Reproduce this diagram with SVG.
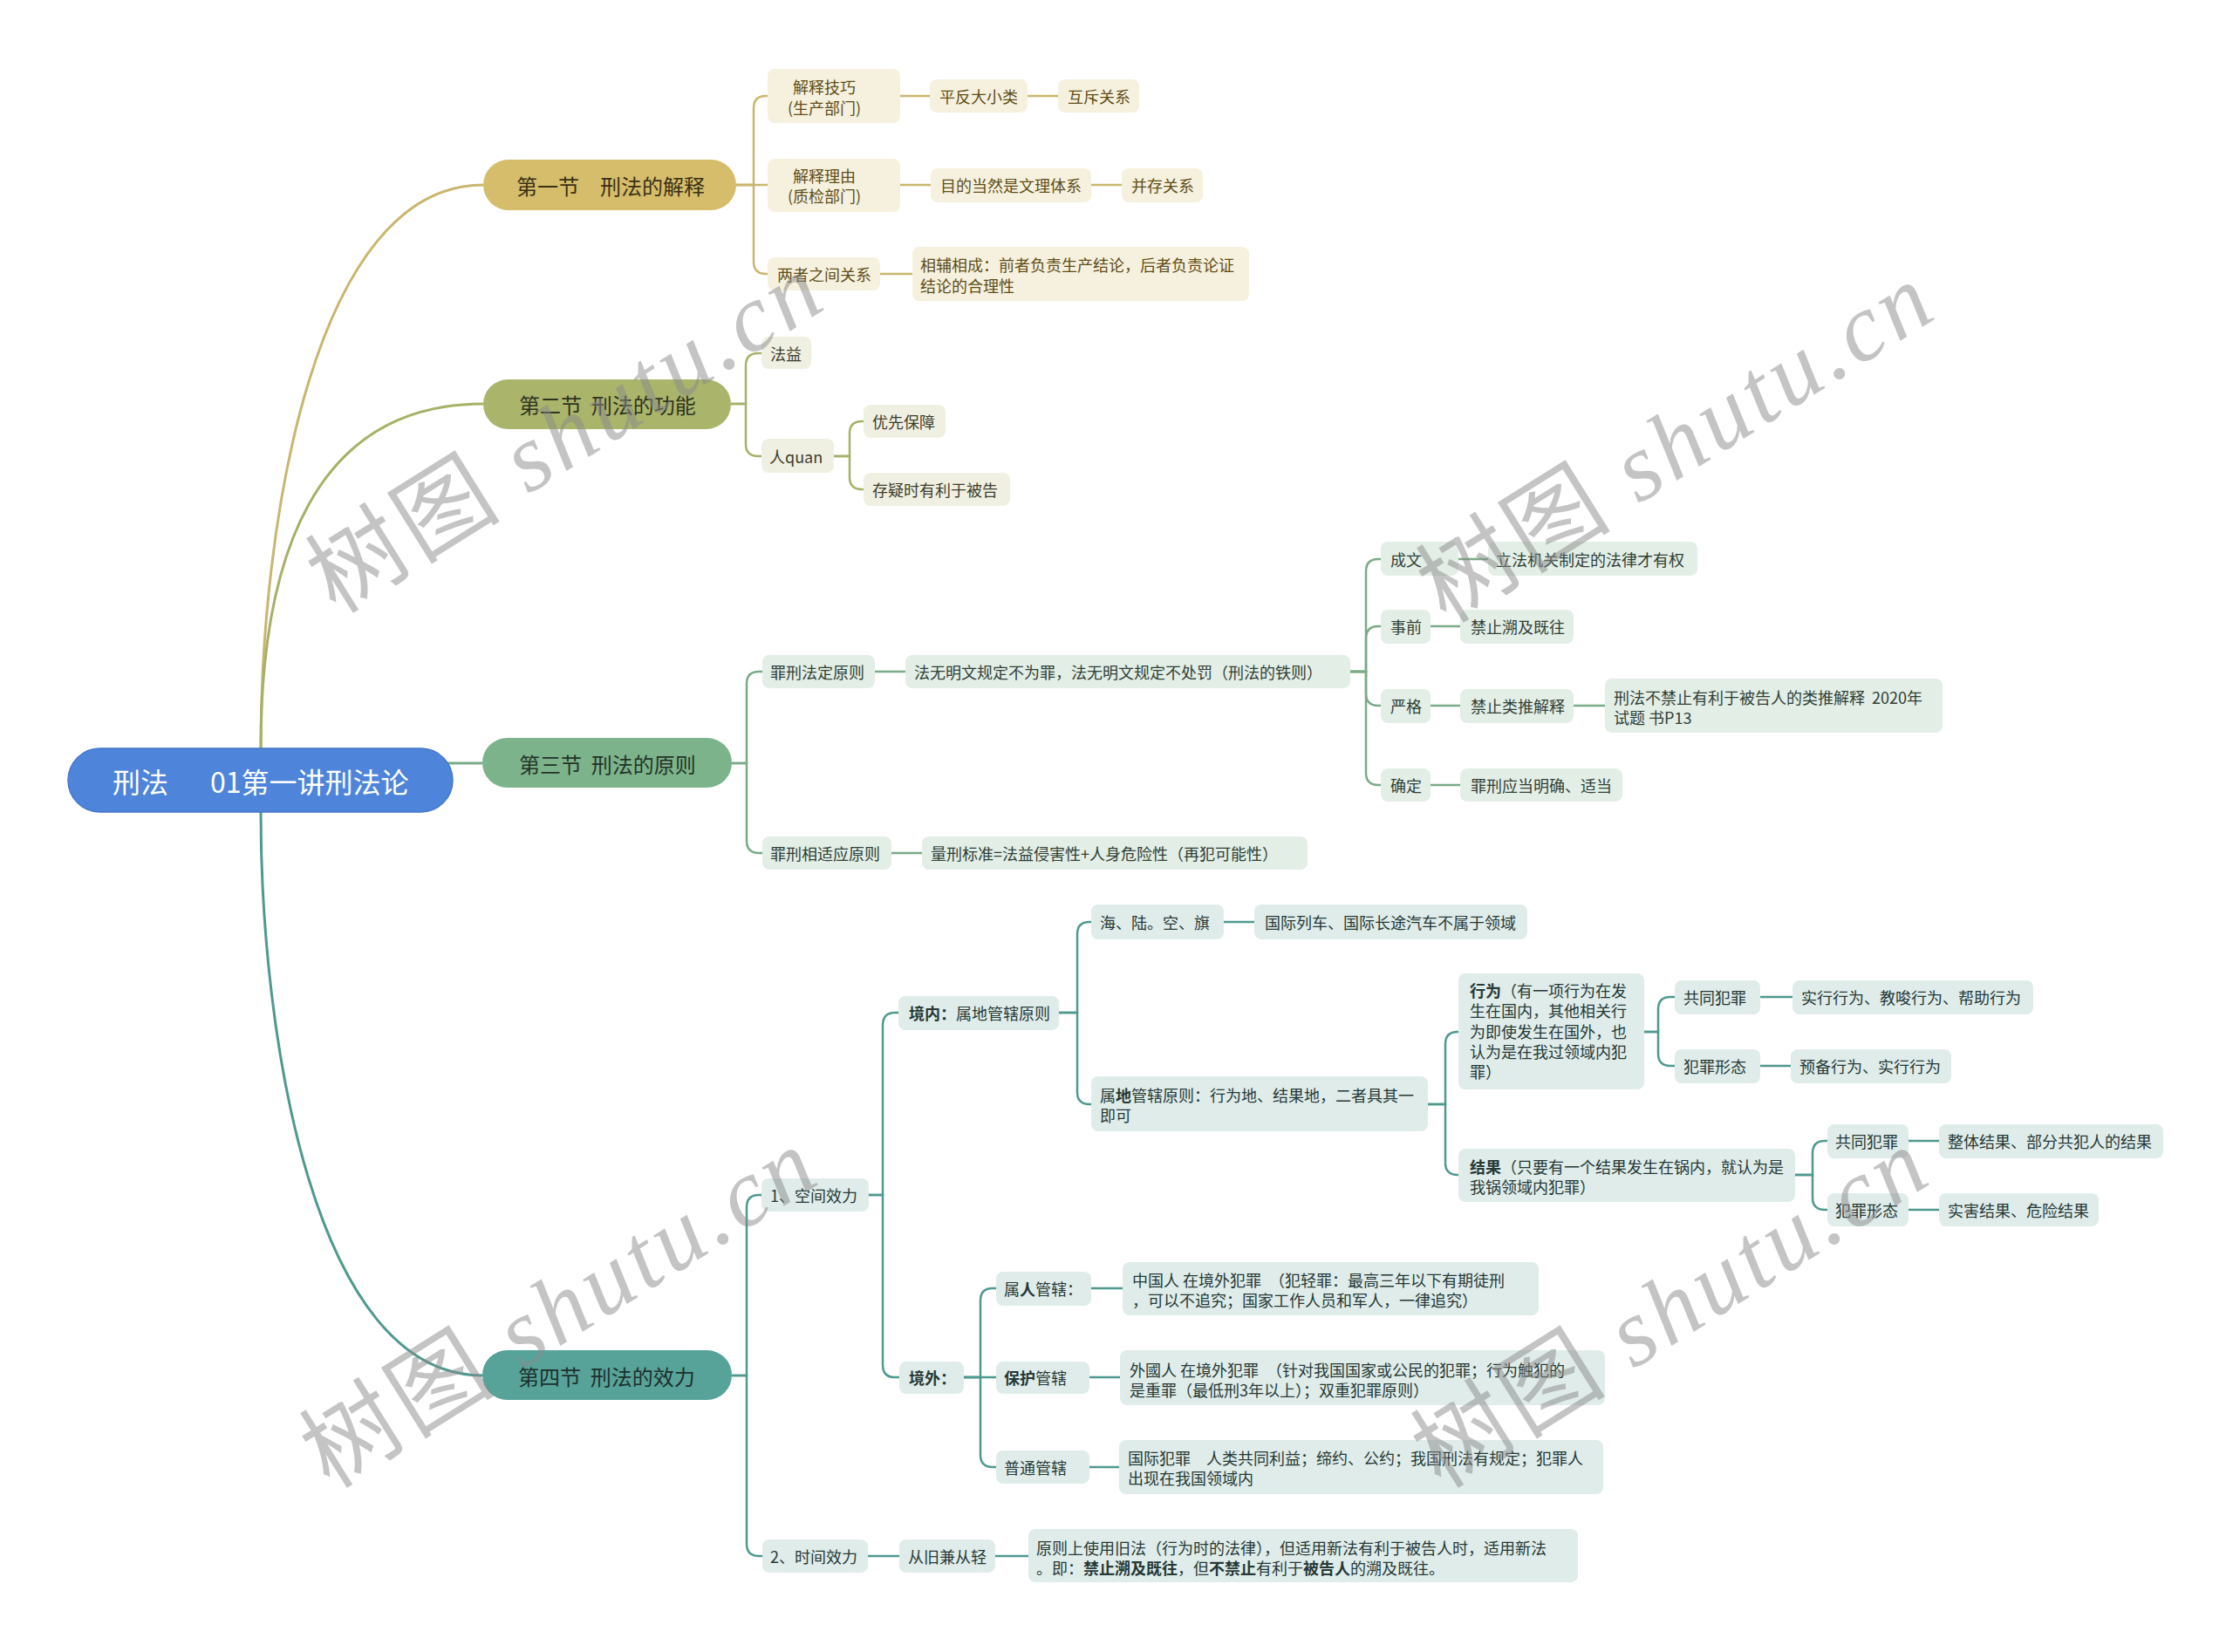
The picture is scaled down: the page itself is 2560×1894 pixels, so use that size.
<svg xmlns="http://www.w3.org/2000/svg" width="2560" height="1894" viewBox="0 0 2560 1894">
<style>
.t{font-family:"Noto Sans CJK SC","Noto Sans",sans-serif;font-size:18px;dominant-baseline:central}
.b{font-weight:bold}
.sec{font-family:"Noto Sans CJK SC","Noto Sans",sans-serif;font-size:24px;dominant-baseline:central}
.c1{fill:none;stroke:#c9b66e;stroke-width:2.5}
.c2{fill:none;stroke:#a7b067;stroke-width:2.5}
.c3{fill:none;stroke:#7aaa87;stroke-width:2.5}
.c4{fill:none;stroke:#4f998f;stroke-width:2.5}
.m{stroke-width:3}
.n1{fill:#f6f1de}.n2{fill:#f0f0e2}.n3{fill:#e3eee6}.n4{fill:#dfecea}
.x1{fill:#5e4d17}.x2{fill:#3e3e2c}.x3{fill:#2f4036}.x4{fill:#263936}
.wm{font-family:"Noto Sans CJK SC","Liberation Serif",serif;font-size:110px;fill:#8a8a8a;opacity:0.5}
.wl{font-family:"Liberation Serif",serif;font-style:italic}
</style>

<g id="connectors">
<path class="c1 m" d="M299,858 C299,600 360,212 554,212"/>
<path class="c2 m" d="M299,858 C299,640 360,463 554,463"/>
<path class="c3 m" d="M480,875 H553"/>
<path class="c4 m" d="M299,931 C299,1189 360,1577 553,1577"/>

<path class="c1" d="M844,212 H864 V124 Q864,110 878,110 H880"/>
<path class="c1" d="M844,212 H880"/>
<path class="c1" d="M844,212 H864 V300 Q864,314 878,314 H880"/>
<path class="c1" d="M1032,110 H1066"/>
<path class="c1" d="M1178,110 H1213"/>
<path class="c1" d="M1032,212 H1067"/>
<path class="c1" d="M1251,212 H1286"/>
<path class="c1" d="M1009,314 H1046"/>

<path class="c2" d="M838,463 H855 V419 Q855,405 869,405 H873"/>
<path class="c2" d="M838,463 H855 V509 Q855,523 869,523 H873"/>
<path class="c2" d="M956,523 H974 V497 Q974,483 988,483 H990"/>
<path class="c2" d="M956,523 H974 V547 Q974,561 988,561 H990"/>

<path class="c3" d="M839,875 H856 V784 Q856,770 870,770 H874"/>
<path class="c3" d="M839,875 H856 V964 Q856,978 870,978 H874"/>
<path class="c3" d="M1003,770 H1038"/>
<path class="c3" d="M1022,978 H1057"/>
<path class="c3" d="M1548,770 H1566 V655 Q1566,641 1580,641 H1583"/>
<path class="c3" d="M1548,770 H1566 V732 Q1566,718 1580,718 H1583"/>
<path class="c3" d="M1548,770 H1566 V795 Q1566,809 1580,809 H1583"/>
<path class="c3" d="M1548,770 H1566 V886 Q1566,900 1580,900 H1583"/>
<path class="c3" d="M1672,641 H1706"/>
<path class="c3" d="M1640,718 H1674"/>
<path class="c3" d="M1640,809 H1674"/>
<path class="c3" d="M1804,809 H1840"/>
<path class="c3" d="M1640,900 H1674"/>

<path class="c4" d="M839,1577 H856 V1384 Q856,1370 870,1370 H873"/>
<path class="c4" d="M839,1577 H856 V1770 Q856,1784 870,1784 H874"/>
<path class="c4" d="M996,1370 H1012 V1175 Q1012,1161 1026,1161 H1030"/>
<path class="c4" d="M996,1370 H1012 V1565 Q1012,1579 1026,1579 H1031"/>
<path class="c4" d="M1214,1161 H1235 V1071 Q1235,1057 1249,1057 H1251"/>
<path class="c4" d="M1214,1161 H1235 V1252 Q1235,1266 1249,1266 H1251"/>
<path class="c4" d="M1403,1057 H1438"/>
<path class="c4" d="M1637,1266 H1657 V1197 Q1657,1183 1671,1183 H1672"/>
<path class="c4" d="M1637,1266 H1657 V1333 Q1657,1347 1671,1347 H1672"/>
<path class="c4" d="M1885,1183 H1901 V1157 Q1901,1143 1915,1143 H1920"/>
<path class="c4" d="M1885,1183 H1901 V1208 Q1901,1222 1915,1222 H1920"/>
<path class="c4" d="M2018,1143 H2055"/>
<path class="c4" d="M2018,1222 H2053"/>
<path class="c4" d="M2058,1347 H2078 V1322 Q2078,1308 2092,1308 H2095"/>
<path class="c4" d="M2058,1347 H2078 V1373 Q2078,1387 2092,1387 H2095"/>
<path class="c4" d="M2188,1308 H2223"/>
<path class="c4" d="M2188,1387 H2223"/>
<path class="c4" d="M1105,1579 H1124 V1491 Q1124,1477 1138,1477 H1142"/>
<path class="c4" d="M1105,1579 H1142"/>
<path class="c4" d="M1105,1579 H1124 V1668 Q1124,1682 1138,1682 H1142"/>
<path class="c4" d="M1251,1477 H1287"/>
<path class="c4" d="M1249,1579 H1284"/>
<path class="c4" d="M1249,1682 H1283"/>
<path class="c4" d="M995,1784 H1031"/>
<path class="c4" d="M1141,1784 H1179"/>
</g>

<g id="root">
<rect x="78" y="858" width="441" height="73" rx="36.5" fill="#4e85da" stroke="#4477c8" stroke-width="1.5"/>
<text class="t" style="font-size:32px" fill="#ffffff" y="895"><tspan x="129">刑法</tspan><tspan x="241">01第一讲刑法论</tspan></text>
</g>

<g id="s1">
<rect x="554" y="183" width="290" height="58" rx="29" fill="#d5bd6b"/>
<text class="sec" x="592" y="212" fill="#3a3016">第一节　刑法的解释</text>
</g>
<g id="s2">
<rect x="554" y="435" width="284" height="57" rx="28.5" fill="#aab56b"/>
<text class="sec" x="595" y="463" fill="#2f3220" xml:space="preserve">第二节  刑法的功能</text>
</g>
<g id="s3">
<rect x="553" y="846" width="286" height="57" rx="28.5" fill="#7cb38b"/>
<text class="sec" x="595" y="875" fill="#243428" xml:space="preserve">第三节  刑法的原则</text>
</g>
<g id="s4">
<rect x="553" y="1548" width="286" height="57" rx="28.5" fill="#57a399"/>
<text class="sec" x="594" y="1577" fill="#1c302d" xml:space="preserve">第四节  刑法的效力</text>
</g>

<g id="n1a"><rect class="n1" x="880" y="79" width="152" height="62" rx="8"/>
<text class="t x1" x="945" y="99" text-anchor="middle">解释技巧</text><text class="t x1" x="945" y="123" text-anchor="middle">(生产部门)</text></g>
<g id="n1a1"><rect class="n1" x="1066" y="91" width="112" height="38" rx="8"/><text class="t x1" x="1077" y="110">平反大小类</text></g>
<g id="n1a2"><rect class="n1" x="1213" y="91" width="93" height="38" rx="8"/><text class="t x1" x="1224" y="110">互斥关系</text></g>
<g id="n1b"><rect class="n1" x="880" y="182" width="152" height="61" rx="8"/>
<text class="t x1" x="945" y="201" text-anchor="middle">解释理由</text><text class="t x1" x="945" y="224" text-anchor="middle">(质检部门)</text></g>
<g id="n1b1"><rect class="n1" x="1067" y="193" width="184" height="39" rx="8"/><text class="t x1" x="1078" y="212">目的当然是文理体系</text></g>
<g id="n1b2"><rect class="n1" x="1286" y="193" width="93" height="39" rx="8"/><text class="t x1" x="1297" y="212">并存关系</text></g>
<g id="n1c"><rect class="n1" x="880" y="295" width="129" height="38" rx="8"/><text class="t x1" x="891" y="314">两者之间关系</text></g>
<g id="n1c1"><rect class="n1" x="1046" y="283" width="386" height="62" rx="8"/>
<text class="t x1" x="1055" y="303">相辅相成：前者负责生产结论，后者负责论证</text><text class="t x1" x="1055" y="327">结论的合理性</text></g>

<g id="n2a"><rect class="n2" x="873" y="386" width="57" height="37" rx="8"/><text class="t x2" x="883" y="405">法益</text></g>
<g id="n2b"><rect class="n2" x="873" y="503" width="83" height="39" rx="8"/><text class="t x2" x="882" y="523">人quan</text></g>
<g id="n2b1"><rect class="n2" x="990" y="464" width="94" height="38" rx="8"/><text class="t x2" x="1000" y="483">优先保障</text></g>
<g id="n2b2"><rect class="n2" x="990" y="542" width="168" height="38" rx="8"/><text class="t x2" x="1000" y="561">存疑时有利于被告</text></g>

<g id="n3a"><rect class="n3" x="874" y="751" width="129" height="38" rx="8"/><text class="t x3" x="883" y="770">罪刑法定原则</text></g>
<g id="n3a1"><rect class="n3" x="1038" y="751" width="510" height="38" rx="8"/><text class="t x3" x="1048" y="770">法无明文规定不为罪，法无明文规定不处罚（刑法的铁则）</text></g>
<g id="n3c1"><rect class="n3" x="1583" y="621" width="89" height="39" rx="8"/><text class="t x3" x="1594" y="641">成文</text></g>
<g id="n3c1a"><rect class="n3" x="1706" y="621" width="240" height="39" rx="8"/><text class="t x3" x="1715" y="641">立法机关制定的法律才有权</text></g>
<g id="n3c2"><rect class="n3" x="1583" y="699" width="57" height="39" rx="8"/><text class="t x3" x="1594" y="718">事前</text></g>
<g id="n3c2a"><rect class="n3" x="1674" y="699" width="130" height="39" rx="8"/><text class="t x3" x="1686" y="718">禁止溯及既往</text></g>
<g id="n3c3"><rect class="n3" x="1583" y="790" width="57" height="39" rx="8"/><text class="t x3" x="1594" y="809">严格</text></g>
<g id="n3c3a"><rect class="n3" x="1674" y="790" width="130" height="39" rx="8"/><text class="t x3" x="1686" y="809">禁止类推解释</text></g>
<g id="n3c3b"><rect class="n3" x="1840" y="778" width="387" height="62" rx="8"/>
<text class="t x3" x="1850" y="799" xml:space="preserve">刑法不禁止有利于被告人的类推解释  2020年</text><text class="t x3" x="1850" y="822">试题 书P13</text></g>
<g id="n3c4"><rect class="n3" x="1583" y="881" width="57" height="38" rx="8"/><text class="t x3" x="1594" y="900">确定</text></g>
<g id="n3c4a"><rect class="n3" x="1674" y="881" width="186" height="38" rx="8"/><text class="t x3" x="1686" y="900">罪刑应当明确、适当</text></g>
<g id="n3b"><rect class="n3" x="874" y="959" width="148" height="38" rx="8"/><text class="t x3" x="883" y="978">罪刑相适应原则</text></g>
<g id="n3b1"><rect class="n3" x="1057" y="959" width="442" height="38" rx="8"/><text class="t x3" x="1067" y="978">量刑标准=法益侵害性+人身危险性（再犯可能性）</text></g>

<g id="n4a"><rect class="n4" x="873" y="1351" width="123" height="38" rx="8"/><text class="t x4" x="883" y="1370">1、空间效力</text></g>
<g id="n4a1"><rect class="n4" x="1030" y="1142" width="184" height="39" rx="8"/><text class="t x4" x="1042" y="1161"><tspan class="b">境内：</tspan>属地管辖原则</text></g>
<g id="n4a1a"><rect class="n4" x="1251" y="1037" width="152" height="40" rx="8"/><text class="t x4" x="1261" y="1057">海、陆。空、旗</text></g>
<g id="n4a1a1"><rect class="n4" x="1438" y="1037" width="313" height="40" rx="8"/><text class="t x4" x="1450" y="1057">国际列车、国际长途汽车不属于领域</text></g>
<g id="n4a1b"><rect class="n4" x="1251" y="1234" width="386" height="63" rx="8"/>
<text class="t x4" x="1261" y="1255">属<tspan class="b">地</tspan>管辖原则：行为地、结果地，二者具其一</text><text class="t x4" x="1261" y="1278">即可</text></g>
<g id="n4xw"><rect class="n4" x="1672" y="1116" width="213" height="133" rx="8"/>
<text class="t x4" x="1685" y="1135"><tspan class="b">行为</tspan>（有一项行为在发</text>
<text class="t x4" x="1685" y="1158">生在国内，其他相关行</text>
<text class="t x4" x="1685" y="1182">为即使发生在国外，也</text>
<text class="t x4" x="1685" y="1205">认为是在我过领域内犯</text>
<text class="t x4" x="1685" y="1228">罪）</text></g>
<g id="n4xw1"><rect class="n4" x="1920" y="1124" width="98" height="39" rx="8"/><text class="t x4" x="1930" y="1143">共同犯罪</text></g>
<g id="n4xw1a"><rect class="n4" x="2055" y="1124" width="276" height="39" rx="8"/><text class="t x4" x="2065" y="1143">实行行为、教唆行为、帮助行为</text></g>
<g id="n4xw2"><rect class="n4" x="1920" y="1203" width="98" height="39" rx="8"/><text class="t x4" x="1930" y="1222">犯罪形态</text></g>
<g id="n4xw2a"><rect class="n4" x="2053" y="1203" width="184" height="39" rx="8"/><text class="t x4" x="2063" y="1222">预备行为、实行行为</text></g>
<g id="n4jg"><rect class="n4" x="1672" y="1317" width="386" height="61" rx="8"/>
<text class="t x4" x="1685" y="1337"><tspan class="b">结果</tspan>（只要有一个结果发生在锅内，就认为是</text>
<text class="t x4" x="1685" y="1360">我锅领域内犯罪）</text></g>
<g id="n4jg1"><rect class="n4" x="2095" y="1289" width="93" height="39" rx="8"/><text class="t x4" x="2104" y="1308">共同犯罪</text></g>
<g id="n4jg1a"><rect class="n4" x="2223" y="1289" width="257" height="39" rx="8"/><text class="t x4" x="2233" y="1308">整体结果、部分共犯人的结果</text></g>
<g id="n4jg2"><rect class="n4" x="2095" y="1368" width="93" height="38" rx="8"/><text class="t x4" x="2104" y="1387">犯罪形态</text></g>
<g id="n4jg2a"><rect class="n4" x="2223" y="1368" width="183" height="38" rx="8"/><text class="t x4" x="2233" y="1387">实害结果、危险结果</text></g>

<g id="n4a2"><rect class="n4" x="1031" y="1561" width="74" height="37" rx="8"/><text class="t x4 b" x="1042" y="1579">境外：</text></g>
<g id="n4a2a"><rect class="n4" x="1142" y="1458" width="109" height="39" rx="8"/><text class="t x4" x="1151" y="1477">属<tspan class="b">人</tspan>管辖：</text></g>
<g id="n4a2a1"><rect class="n4" x="1287" y="1447" width="477" height="61" rx="8"/>
<text class="t x4" x="1298" y="1467">中国人 在境外犯罪　（犯轻罪：最高三年以下有期徒刑</text>
<text class="t x4" x="1298" y="1490">，可以不追究；国家工作人员和军人，一律追究）</text></g>
<g id="n4a2b"><rect class="n4" x="1142" y="1561" width="107" height="37" rx="8"/><text class="t x4" x="1151" y="1579"><tspan class="b">保护</tspan>管辖</text></g>
<g id="n4a2b1"><rect class="n4" x="1284" y="1548" width="556" height="63" rx="8"/>
<text class="t x4" x="1295" y="1570">外國人 在境外犯罪　（针对我国国家或公民的犯罪；行为触犯的</text>
<text class="t x4" x="1295" y="1593">是重罪（最低刑3年以上）；双重犯罪原则）</text></g>
<g id="n4a2c"><rect class="n4" x="1142" y="1663" width="107" height="38" rx="8"/><text class="t x4" x="1151" y="1682">普通管辖</text></g>
<g id="n4a2c1"><rect class="n4" x="1283" y="1651" width="555" height="62" rx="8"/>
<text class="t x4" x="1293" y="1671">国际犯罪　人类共同利益；缔约、公约；我国刑法有规定；犯罪人</text>
<text class="t x4" x="1293" y="1694">出现在我国领域内</text></g>
<g id="n4b"><rect class="n4" x="874" y="1765" width="121" height="38" rx="8"/><text class="t x4" x="883" y="1784">2、时间效力</text></g>
<g id="n4b1"><rect class="n4" x="1031" y="1765" width="110" height="38" rx="8"/><text class="t x4" x="1041" y="1784">从旧兼从轻</text></g>
<g id="n4b1a"><rect class="n4" x="1179" y="1753" width="630" height="61" rx="8"/>
<text class="t x4" x="1188" y="1774">原则上使用旧法（行为时的法律），但适用新法有利于被告人时，适用新法</text>
<text class="t x4" x="1188" y="1797">。即：<tspan class="b">禁止溯及既往</tspan>，但<tspan class="b">不禁止</tspan>有利于<tspan class="b">被告人</tspan>的溯及既往。</text></g>

<g id="watermarks">
<text class="wm" transform="translate(385,705) rotate(-32)" textLength="665" lengthAdjust="spacing">树图 <tspan class="wl">shutu.cn</tspan></text>
<text class="wm" transform="translate(1658,716) rotate(-32)" textLength="665" lengthAdjust="spacing">树图 <tspan class="wl">shutu.cn</tspan></text>
<text class="wm" transform="translate(378,1708) rotate(-32)" textLength="665" lengthAdjust="spacing">树图 <tspan class="wl">shutu.cn</tspan></text>
<text class="wm" transform="translate(1652,1708) rotate(-32)" textLength="665" lengthAdjust="spacing">树图 <tspan class="wl">shutu.cn</tspan></text>
</g>
</svg>
